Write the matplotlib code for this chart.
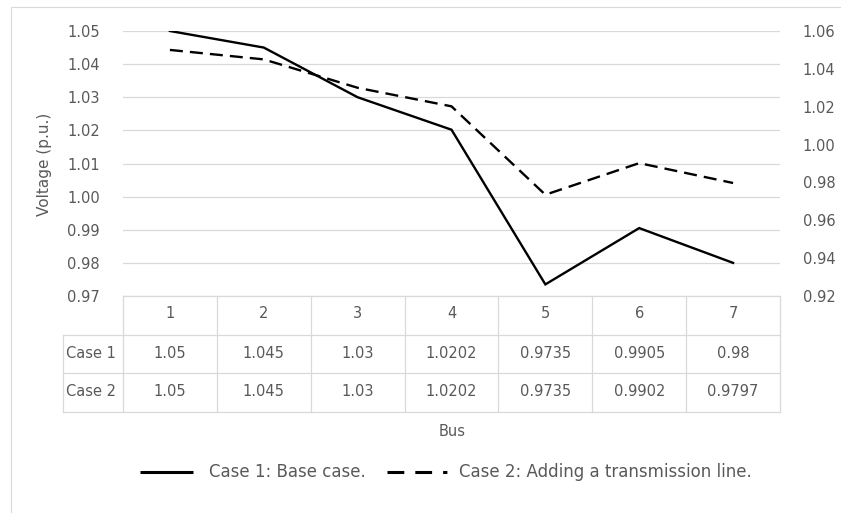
import matplotlib
matplotlib.use("Agg")
import matplotlib.pyplot as plt
from matplotlib.lines import Line2D
from matplotlib.patches import Rectangle
import numpy as np

buses = ["1", "2", "3", "4", "5", "6", "7"]
case1 = [1.05, 1.045, 1.03, 1.0202, 0.9735, 0.9905, 0.98]
case2 = [1.05, 1.045, 1.03, 1.0202, 0.9735, 0.9902, 0.9797]
case1_txt = ["1.05", "1.045", "1.03", "1.0202", "0.9735", "0.9905", "0.98"]
case2_txt = ["1.05", "1.045", "1.03", "1.0202", "0.9735", "0.9902", "0.9797"]
left_ticks = [0.97, 0.98, 0.99, 1.00, 1.01, 1.02, 1.03, 1.04, 1.05]
right_ticks = [0.92, 0.94, 0.96, 0.98, 1.00, 1.02, 1.04, 1.06]
labels = ["Case 1: Base case.", "Case 2: Adding a transmission line."]

W, H = 841, 513
txt = "#595959"
grid = "#d9d9d9"
fs = 10.5

fig = plt.figure(figsize=(W / 100, H / 100), dpi=100)

def fx(px):
    return px / W

def fy(py):
    return 1 - py / H

# chart area border
fig.patches.append(Rectangle((fx(11), fy(520)), fx(845) - fx(11), fy(7) - fy(520),
                             transform=fig.transFigure, fill=False, ec=grid, lw=0.8))

left, right, top, bottom = 123, 780, 31, 296
ax = fig.add_axes([fx(left), fy(bottom), fx(right) - fx(left), fy(top) - fy(bottom)])
x = np.arange(1, len(buses) + 1)
ax.set_xlim(0.5, len(buses) + 0.5)
ax.set_ylim(0.97, 1.05)
ax.set_yticks(left_ticks)
ax.set_yticklabels([f"{v:.2f}" for v in left_ticks])
ax.yaxis.grid(True, color=grid, lw=0.9)
ax.set_axisbelow(True)
ax.set_xticks([])
for s in ax.spines.values():
    s.set_visible(False)
ax.tick_params(axis="y", length=0, labelsize=fs, labelcolor=txt, pad=16.5)
fig.text(fx(44), fy(164), "Voltage (p.u.)", rotation=90, ha="center", va="center",
         color=txt, fontsize=11)

l1, = ax.plot(x, case1, color="black", lw=1.7, solid_joinstyle="miter")

ax2 = ax.twinx()
ax2.set_ylim(0.92, 1.06)
ax2.set_yticks(right_ticks)
ax2.set_yticklabels([f"{v:.2f}" for v in right_ticks])
for s in ax2.spines.values():
    s.set_visible(False)
ax2.tick_params(axis="y", length=0, labelsize=fs, labelcolor=txt, pad=16.5)
l2, = ax2.plot(x, case2, color="black", lw=1.7, dashes=(5.5, 3))

# data table below the plot
tr = ax.get_xaxis_transform()
def ay(py):
    return (bottom - py) / (bottom - top)

row_y = [296, 335, 373, 412]
label_left = 63
xl = ax.transData.inverted().transform((label_left, 0))[0]
for i, py in enumerate(row_y):
    x0 = 0.5 if i == 0 else xl
    ax.plot([x0, len(buses) + 0.5], [ay(py)] * 2, transform=tr, color=grid, lw=0.9, clip_on=False)
for b in range(len(buses) + 1):
    ax.plot([b + 0.5] * 2, [ay(row_y[0]), ay(row_y[-1])], transform=tr, color=grid, lw=0.9, clip_on=False)
ax.plot([xl] * 2, [ay(row_y[1]), ay(row_y[-1])], transform=tr, color=grid, lw=0.9, clip_on=False)

for i, b in enumerate(buses):
    ax.text(x[i], ay(314), b, transform=tr, ha="center", va="center", color=txt, fontsize=fs)
    ax.text(x[i], ay(353), case1_txt[i], transform=tr, ha="center", va="center", color=txt, fontsize=fs)
    ax.text(x[i], ay(392), case2_txt[i], transform=tr, ha="center", va="center", color=txt, fontsize=fs)
ax.text(xl + 0.03, ay(353), "Case 1", transform=tr, ha="left", va="center", color=txt, fontsize=fs)
ax.text(xl + 0.03, ay(392), "Case 2", transform=tr, ha="left", va="center", color=txt, fontsize=fs)

fig.text(fx(452), fy(431), "Bus", ha="center", va="center", color=txt, fontsize=fs)

# legend
ly = fy(472)
fig.add_artist(Line2D([fx(140), fx(193)], [ly, ly], color="black", lw=2.2,
                      transform=fig.transFigure, solid_capstyle="butt"))
fig.text(fx(209), ly, labels[0], ha="left", va="center", color=txt, fontsize=12)
fig.add_artist(Line2D([fx(387), fx(452)], [ly, ly], color="black", lw=2.2,
                      dashes=(5.5, 3.6, 5.5, 3.6, 1.4, 3.6), dash_capstyle="butt",
                      transform=fig.transFigure))
fig.text(fx(459), ly, labels[1], ha="left", va="center", color=txt, fontsize=12)

fig.savefig("out.png", dpi=100)
